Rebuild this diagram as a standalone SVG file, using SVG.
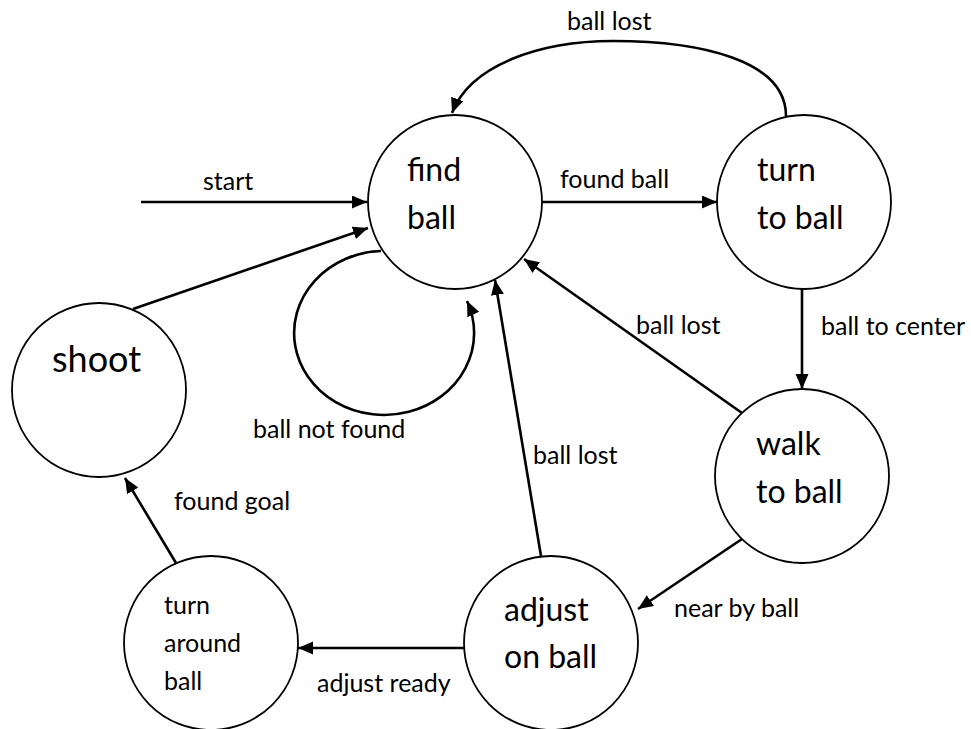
<svg xmlns="http://www.w3.org/2000/svg" width="971" height="729" viewBox="0 0 971 729">
<style>
  .node { fill: #ffffff; stroke: #000000; stroke-width: 1.8; }
  .nt { font-family: Lato, "Open Sans", "Liberation Sans", sans-serif; font-size: 32px; fill: #000; }
  .nts { font-family: Lato, "Open Sans", "Liberation Sans", sans-serif; font-size: 25px; fill: #000; }
  .lbl { font-family: Lato, "Open Sans", "Liberation Sans", sans-serif; font-size: 25px; fill: #000; }
  .edge { fill: none; stroke: #000; stroke-width: 2.6; marker-end: url(#arrow); }
</style>
<defs>
  <marker id="arrow" markerUnits="userSpaceOnUse" markerWidth="16" markerHeight="14" refX="15" refY="6.5" orient="auto">
    <path d="M0,0 L15,6.5 L0,13 z" fill="#000"/>
  </marker>
</defs>
<rect width="971" height="729" fill="#ffffff"/>

<g id="edges">
  <path class="edge" d="M141,202 L367,202"/>
  <path class="edge" d="M133,309 L368,228"/>
  <path class="edge" d="M542,202 L717,202"/>
  <path class="edge" d="M802,288 L802,389"/>
  <path class="edge" d="M786,116 C786,60 700,41 613,41 C540,41 470,65 452,113"/>
  <path class="edge" d="M742,413 L524,259"/>
  <path class="edge" d="M541,556 L495,280"/>
  <path class="edge" d="M742,539 L638,609"/>
  <path class="edge" d="M465,648 L298,648"/>
  <path class="edge" d="M176,563 L125,478"/>
  <path class="edge" d="M381,251 A90,82 0 1 0 467,301"/>
  <text class="lbl" x="203" y="190">start</text>
  <text class="lbl" x="560" y="188">found ball</text>
  <text class="lbl" x="567" y="30">ball lost</text>
  <text class="lbl" x="821" y="335">ball to center</text>
  <text class="lbl" x="636" y="334">ball lost</text>
  <text class="lbl" x="533" y="464">ball lost</text>
  <text class="lbl" x="253" y="438">ball not found</text>
  <text class="lbl" x="674" y="617">near by ball</text>
  <text class="lbl" x="317" y="692">adjust ready</text>
  <text class="lbl" x="174" y="510">found goal</text>
</g>

<g id="find-ball">
  <circle class="node" cx="455" cy="202" r="87"/>
  <text class="nt" x="407" y="181">find</text>
  <text class="nt" x="407" y="229">ball</text>
</g>
<g id="turn-to-ball">
  <circle class="node" cx="804" cy="202" r="87"/>
  <text class="nt" x="757" y="181">turn</text>
  <text class="nt" x="757" y="229">to ball</text>
</g>
<g id="walk-to-ball">
  <circle class="node" cx="802" cy="476" r="87"/>
  <text class="nt" x="756" y="455">walk</text>
  <text class="nt" x="756" y="503">to ball</text>
</g>
<g id="adjust-on-ball">
  <circle class="node" cx="551" cy="643" r="87"/>
  <text class="nt" x="504" y="621">adjust</text>
  <text class="nt" x="504" y="668">on ball</text>
</g>
<g id="turn-around-ball">
  <circle class="node" cx="211" cy="643" r="87"/>
  <text class="nts" x="164" y="614">turn</text>
  <text class="nts" x="164" y="652">around</text>
  <text class="nts" x="164" y="690">ball</text>
</g>
<g id="shoot">
  <circle class="node" cx="99" cy="390" r="87"/>
  <text class="nt" x="52" y="372" style="font-size:36px">shoot</text>
</g>
</svg>
